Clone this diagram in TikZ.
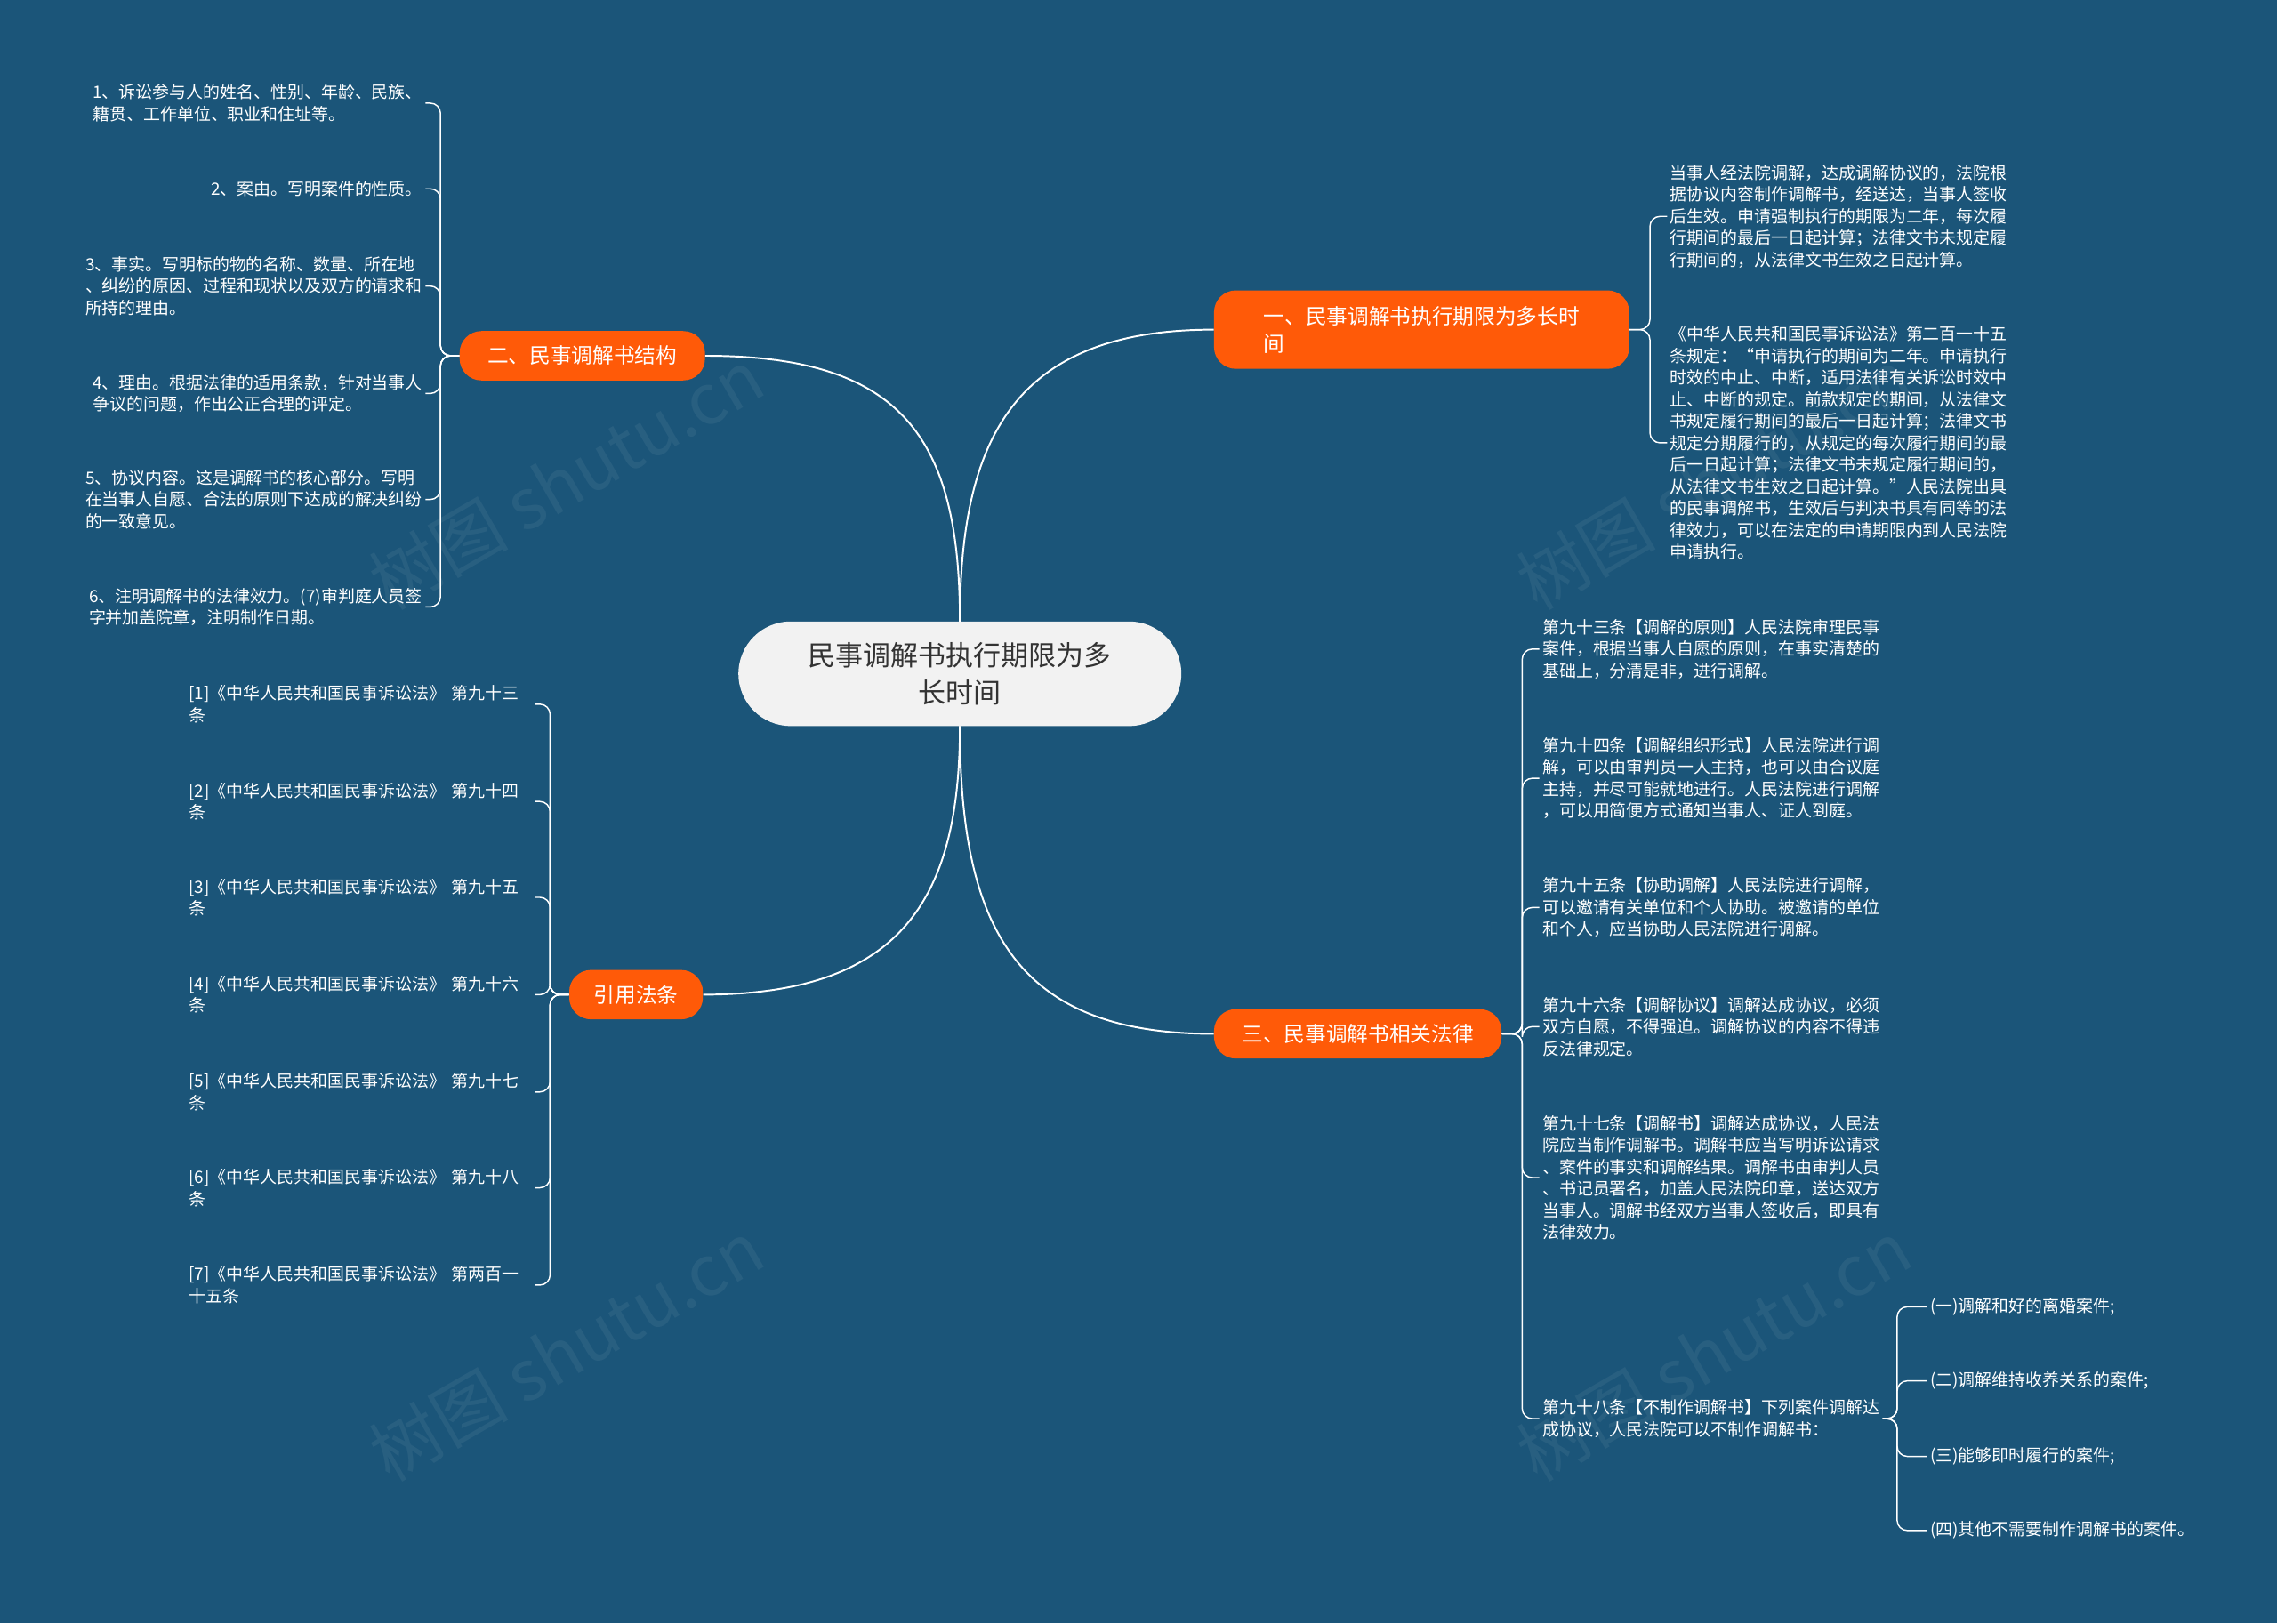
\documentclass[tikz,border=0pt]{standalone}
\usepackage{fontspec}
\setmainfont{Noto Sans CJK SC}
\begin{document}
\begin{tikzpicture}[x=1pt,y=-1pt,
  leaf/.style={text=white,font=\fontsize{11.6}{15}\selectfont,align=left,inner sep=2pt},
  br/.style={fill=orange!85!red,text=white,rounded corners=15pt,font=\fontsize{14.5}{19}\selectfont,inner xsep=14pt,inner ysep=6pt,align=left},
  main/.style={draw=white, line width=1.2pt},
  ll/.style={draw=white,line width=0.9pt,rounded corners=7pt}]
\definecolor{bg}{HTML}{1B5579}
\definecolor{orange}{HTML}{FF6A0A}
\fill[bg] (0,0) rectangle (1568,1118);
\useasboundingbox (0,0) rectangle (1568,1118);
\foreach \x/\y in {390/330,1180/330,390/930,1180/930}
  \node[rotate=30,text=white,opacity=0.06,font=\fontsize{48}{50}\selectfont] at (\x,\y) {树图 shutu.cn};

\node[fill=white!95!black,rounded corners=36pt,minimum width=305pt,minimum height=72pt,align=center,font=\fontsize{19}{26}\selectfont,text=black!80] (c) at (661,464) {民事调解书执行期限为多\\长时间};

\node[br,minimum width=286pt,minimum height=54pt] (b1) at (979,227) {一、民事调解书执行期限为多长时\\间};
\node[br,minimum width=169pt,minimum height=34pt] (b2) at (401,245) {二、民事调解书结构};
\node[br,minimum width=92pt,minimum height=34pt] (b3) at (438,685) {引用法条};
\node[br,minimum width=198pt,minimum height=34pt] (b4) at (935,712) {三、民事调解书相关法律};

\draw[main] (661,428) .. controls (661,300) and (700,227) .. (b1.west);
\draw[main] (661,428) .. controls (661,300) and (620,245) .. (b2.east);
\draw[main] (661,500) .. controls (661,620) and (620,685) .. (b3.east);
\draw[main] (661,500) .. controls (661,640) and (700,712) .. (b4.west);

% branch 2
\node[leaf,anchor=east] (a1) at (293,71) {1、诉讼参与人的姓名、性别、年龄、民族、\\籍贯、工作单位、职业和住址等。};
\node[leaf,anchor=east] (a2) at (293,130) {2、案由。写明案件的性质。};
\node[leaf,anchor=east] (a3) at (293,197) {3、事实。写明标的物的名称、数量、所在地\\、纠纷的原因、过程和现状以及双方的请求和\\所持的理由。};
\node[leaf,anchor=east] (a4) at (293,271) {4、理由。根据法律的适用条款，针对当事人\\争议的问题，作出公正合理的评定。};
\node[leaf,anchor=east] (a5) at (293,344) {5、协议内容。这是调解书的核心部分。写明\\在当事人自愿、合法的原则下达成的解决纠纷\\的一致意见。};
\node[leaf,anchor=east] (a6) at (293,418) {6、注明调解书的法律效力。(7)审判庭人员签\\字并加盖院章，注明制作日期。};
\foreach \n in {a1,a2,a3,a4,a5,a6} \draw[ll] (b2.west) -- ++(-13,0) |- (\n.east);

% branch 1
\node[leaf,anchor=west] (d1) at (1148,149) {当事人经法院调解，达成调解协议的，法院根\\据协议内容制作调解书，经送达，当事人签收\\后生效。申请强制执行的期限为二年，每次履\\行期间的最后一日起计算；法律文书未规定履\\行期间的，从法律文书生效之日起计算。};
\node[leaf,anchor=west] (d2) at (1148,305) {《中华人民共和国民事诉讼法》第二百一十五\\条规定：“申请执行的期间为二年。申请执行\\时效的中止、中断，适用法律有关诉讼时效中\\止、中断的规定。前款规定的期间，从法律文\\书规定履行期间的最后一日起计算；法律文书\\规定分期履行的，从规定的每次履行期间的最\\后一日起计算；法律文书未规定履行期间的，\\从法律文书生效之日起计算。”人民法院出具\\的民事调解书，生效后与判决书具有同等的法\\律效力，可以在法定的申请期限内到人民法院\\申请执行。};
\foreach \n in {d1,d2} \draw[ll] (b1.east) -- ++(14,0) |- (\n.west);

% branch 3
\foreach \i/\y/\t in {1/485/第九十三,2/552/第九十四,3/618/第九十五,4/685/第九十六,5/752/第九十七,6/818/第九十八}
  \node[leaf,anchor=west,text width=236pt] (r\i) at (128,\y) {[\i]《中华人民共和国民事诉讼法》 \t\\条};
\node[leaf,anchor=west,text width=236pt] (r7) at (128,885) {[7]《中华人民共和国民事诉讼法》 第两百一\\十五条};
\foreach \n in {r1,r2,r3,r4,r5,r6,r7} \draw[ll] (b3.west) -- ++(-13,0) |- (\n.east);

% branch 4
\node[leaf,anchor=west] (e1) at (1060,447) {第九十三条【调解的原则】人民法院审理民事\\案件，根据当事人自愿的原则，在事实清楚的\\基础上，分清是非，进行调解。};
\node[leaf,anchor=west] (e2) at (1060,536) {第九十四条【调解组织形式】人民法院进行调\\解，可以由审判员一人主持，也可以由合议庭\\主持，并尽可能就地进行。人民法院进行调解\\，可以用简便方式通知当事人、证人到庭。};
\node[leaf,anchor=west] (e3) at (1060,625) {第九十五条【协助调解】人民法院进行调解，\\可以邀请有关单位和个人协助。被邀请的单位\\和个人，应当协助人民法院进行调解。};
\node[leaf,anchor=west] (e4) at (1060,707) {第九十六条【调解协议】调解达成协议，必须\\双方自愿，不得强迫。调解协议的内容不得违\\反法律规定。};
\node[leaf,anchor=west] (e5) at (1060,811) {第九十七条【调解书】调解达成协议，人民法\\院应当制作调解书。调解书应当写明诉讼请求\\、案件的事实和调解结果。调解书由审判人员\\、书记员署名，加盖人民法院印章，送达双方\\当事人。调解书经双方当事人签收后，即具有\\法律效力。};
\node[leaf,anchor=west] (e6) at (1060,977) {第九十八条【不制作调解书】下列案件调解达\\成协议，人民法院可以不制作调解书：};
\foreach \n in {e1,e2,e3,e4,e5,e6} \draw[ll] (b4.east) -- ++(14,0) |- (\n.west);

\node[leaf,anchor=west] (f1) at (1327,900) {(一)调解和好的离婚案件;};
\node[leaf,anchor=west] (f2) at (1327,951) {(二)调解维持收养关系的案件;};
\node[leaf,anchor=west] (f3) at (1327,1003) {(三)能够即时履行的案件;};
\node[leaf,anchor=west] (f4) at (1327,1054) {(四)其他不需要制作调解书的案件。};
\foreach \n in {f1,f2,f3,f4} \draw[ll] (e6.east) -- ++(10,0) |- (\n.west);
\end{tikzpicture}
\end{document}
